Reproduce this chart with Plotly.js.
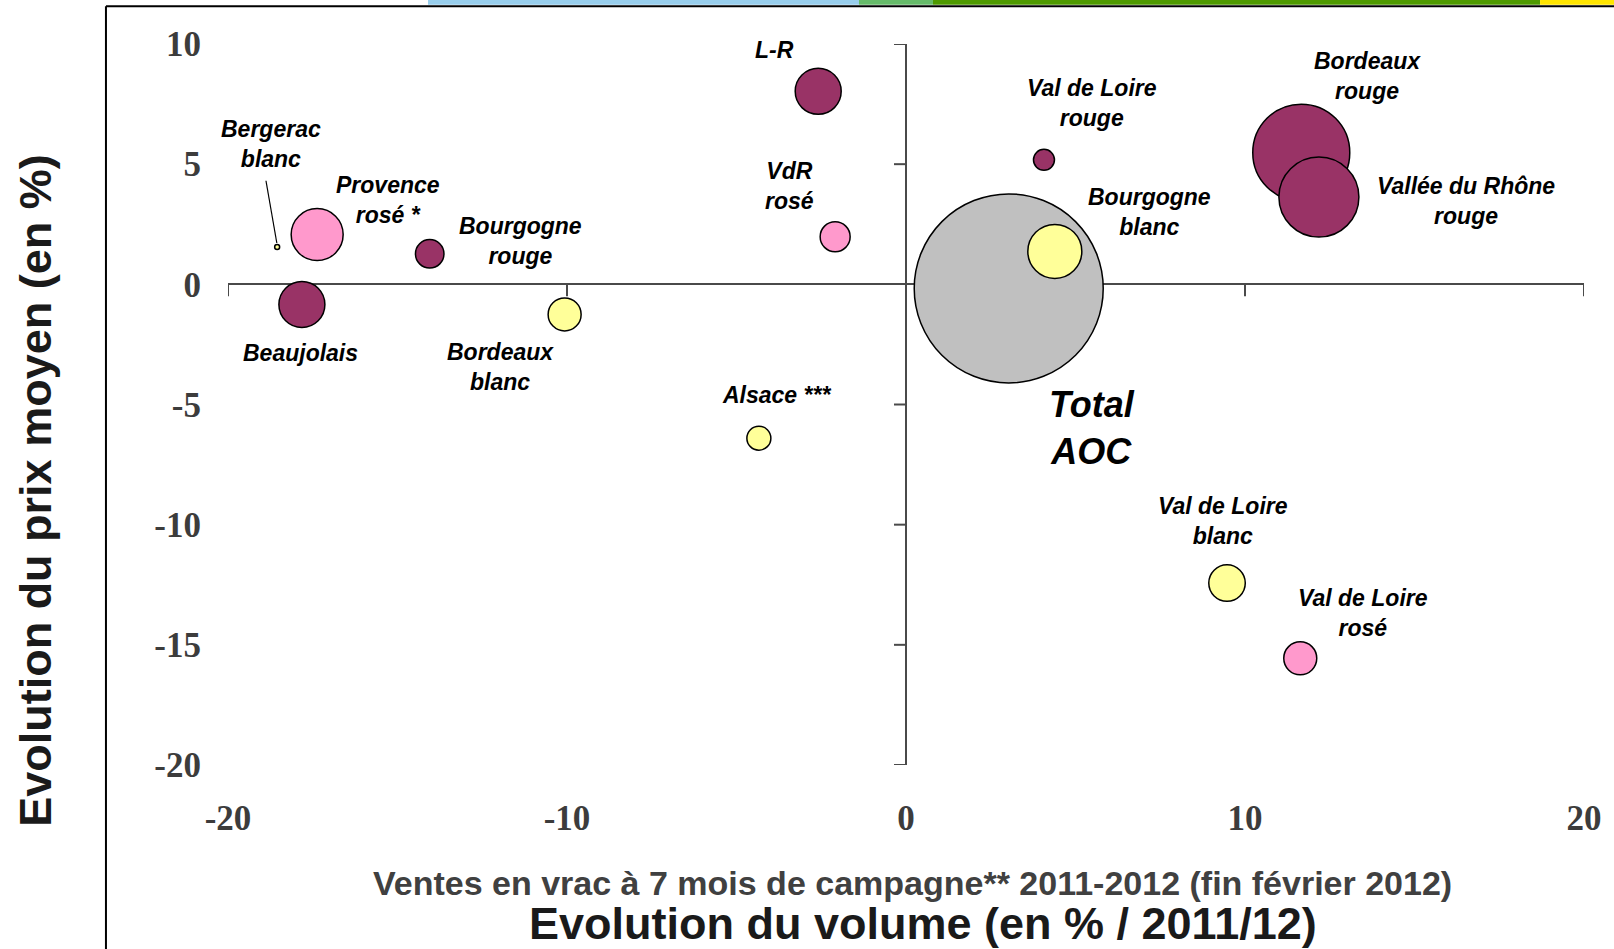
<!DOCTYPE html>
<html>
<head>
<meta charset="utf-8">
<script src="https://cdn.plot.ly/plotly-3.0.1.min.js"></script>
<style>html,body{margin:0;padding:0;background:#fff;}#chart{width:1614px;height:949px;}</style>
</head>
<body>
<div id="chart"></div>
<script>
// ---- data ----
const regions = ["Total AOC","Bordeaux rouge","Vallée du Rhône rouge","Bourgogne blanc","Val de Loire rouge",
  "L-R","VdR rosé","Alsace","Bergerac blanc","Provence rosé","Bourgogne rouge","Beaujolais","Bordeaux blanc",
  "Val de Loire blanc","Val de Loire rosé"];
const wineType = ["total","rouge","rouge","blanc","rouge","rouge","rosé","blanc","blanc","rosé","rouge","rouge","blanc","blanc","rosé"];
const volumeChange = [3.03,11.66,12.18,4.39,4.07,-2.59,-2.09,-4.34,-18.55,-17.37,-14.05,-17.82,-10.07,9.47,11.63];
const priceChange  = [-0.17,5.48,3.63,1.37,5.18,8.03,1.98,-6.40,1.55,2.07,1.27,-0.84,-1.25,-12.43,-15.56];
const volumes      = [35721,9409,6400,2916,441,2116,900,576,25,2704,812,2116,1089,1332,1089];
const xTicks = [-20,-10,0,10,20];
const yTicks = [-20,-15,-10,-5,0,5,10];
const labelTexts = ["L-R","Bergerac<br>blanc","Provence<br>rosé *","Bourgogne<br>rouge","Beaujolais","Bordeaux<br>blanc",
  "VdR<br>rosé","Alsace ***","Val de Loire<br>rouge","Bordeaux<br>rouge","Vallée du Rhône<br>rouge","Bourgogne<br>blanc",
  "Val de Loire<br>blanc","Val de Loire<br>rosé"];

// ---- styles ----
const typeColors = {rouge:"#993366", "rosé":"#FF99CC", blanc:"#FFFF99", total:"#C0C0C0"};
const labelPos = [[-3.89,9.73],[-18.73,5.84],[-15.28,3.52],[-11.36,1.81],[-17.85,-2.84],[-11.95,-3.42],
  [-3.45,4.11],[-3.81,-4.59],[5.49,7.56],[13.6,8.68],[16.52,3.48],[7.17,3.02],[9.35,-9.83],[13.48,-13.66]];

const trace = {
  type:"scatter", mode:"markers",
  x: volumeChange, y: priceChange, text: regions, hoverinfo:"text",
  marker:{
    size: volumes, sizemode:"area", sizeref:2,
    color: wineType.map(t => typeColors[t]),
    line:{color:"#000", width:1.5}, opacity:1
  }
};

const labelFont = {family:"Liberation Sans, Arial, sans-serif", size:23, color:"#000"};
const annotations = labelTexts.map((t,i) => ({
  x: labelPos[i][0], y: labelPos[i][1], xref:"x", yref:"y", xanchor:"center", yanchor:"middle",
  text: "<b><i>"+t+"</i></b>", showarrow:false, font: labelFont, align:"center"
}));
annotations.push({x:5.49, y:-5.98, xref:"x", yref:"y", xanchor:"center", yanchor:"middle",
  text:"<b><i>Total<br>AOC</i></b>", showarrow:false,
  font:{family:"Liberation Sans, Arial, sans-serif", size:36, color:"#000"}, align:"center"});
annotations.push({x:-0.1416, y:0.3816, xref:"paper", yref:"paper", xanchor:"center", yanchor:"middle",
  textangle:-90, showarrow:false,
  text:"<b>Evolution du prix moyen (en %)</b>",
  font:{family:"Liberation Sans, Arial, sans-serif", size:45, color:"#1a1a1a"}});
annotations.push({x:0.5125, y:-0.2205, xref:"paper", yref:"paper", xanchor:"center", yanchor:"middle", showarrow:false,
  text:"<b>Evolution du volume (en % / 2011/12)</b>",
  font:{family:"Liberation Sans, Arial, sans-serif", size:45, color:"#1a1a1a"}});
annotations.push({x:0.505, y:-0.1637, xref:"paper", yref:"paper", xanchor:"center", yanchor:"middle", showarrow:false,
  text:"<b>Ventes en vrac à 7 mois de campagne** 2011-2012 (fin février 2012)</b>",
  font:{family:"Liberation Sans, Arial, sans-serif", size:34, color:"#404040"}});

const axisGrey = "#4a4a4a";
const shapes = [];
// tick marks on the zero axes
xTicks.filter(v => v !== 0).forEach(v => shapes.push({type:"line", layer:"below", xref:"x", yref:"y",
  x0:v, x1:v, ysizemode:"pixel", yanchor:0, y0:0, y1:-12, line:{color:axisGrey, width:2}}));
yTicks.filter(v => v !== 0).forEach(v => shapes.push({type:"line", layer:"below", xref:"x", yref:"y",
  y0:v, y1:v, xsizemode:"pixel", xanchor:0, x0:-12, x1:0, line:{color:axisGrey, width:2}}));
// Bergerac leader line
shapes.push({type:"line", layer:"above", xref:"x", yref:"y", x0:-18.88, y0:4.31, x1:-18.56, y1:1.72,
  line:{color:"#000", width:1.2}});
// frame
shapes.push({type:"line", xref:"paper", yref:"paper", x0:-0.09, x1:-0.09, y0:1.0525, y1:-0.26, line:{color:"#000", width:2}});
shapes.push({type:"line", xref:"paper", yref:"paper", x0:-0.09, x1:1.03, y0:1.0525, y1:1.0525, line:{color:"#000", width:2}});
// top colour band
const band = [[0.1475,0.4653,"#98CEEC"],[0.4653,0.5199,"#66BB6A"],[0.5199,0.9676,"#4E9A00"],[0.9676,1.03,"#FFE500"]];
band.forEach(b => shapes.push({type:"rect", xref:"paper", yref:"paper", x0:b[0], x1:b[1], y0:1.0545, y1:1.07,
  fillcolor:b[2], line:{width:0}}));

const tickFont = {family:"Liberation Serif, Times New Roman, serif", size:35, color:"#3c3c3c", weight:"bold"};
const layout = {
  width:1614, height:949,
  margin:{l:228, r:30, t:44, b:184},
  paper_bgcolor:"#fff", plot_bgcolor:"#fff",
  showlegend:false,
  xaxis:{range:[-20,20], tickvals:xTicks, ticktext:xTicks.map(String), showgrid:false, showline:false,
    zeroline:true, zerolinecolor:axisGrey, zerolinewidth:2, ticks:"", tickfont:tickFont, ticklabelstandoff:29},
  yaxis:{range:[-20,10], tickvals:yTicks, ticktext:yTicks.map(String), showgrid:false, showline:false,
    zeroline:true, zerolinecolor:axisGrey, zerolinewidth:2, ticks:"", tickfont:tickFont, ticklabelstandoff:26},
  annotations: annotations,
  shapes: shapes
};
Plotly.newPlot("chart", [trace], layout, {displayModeBar:false, staticPlot:true});
</script>
</body>
</html>
